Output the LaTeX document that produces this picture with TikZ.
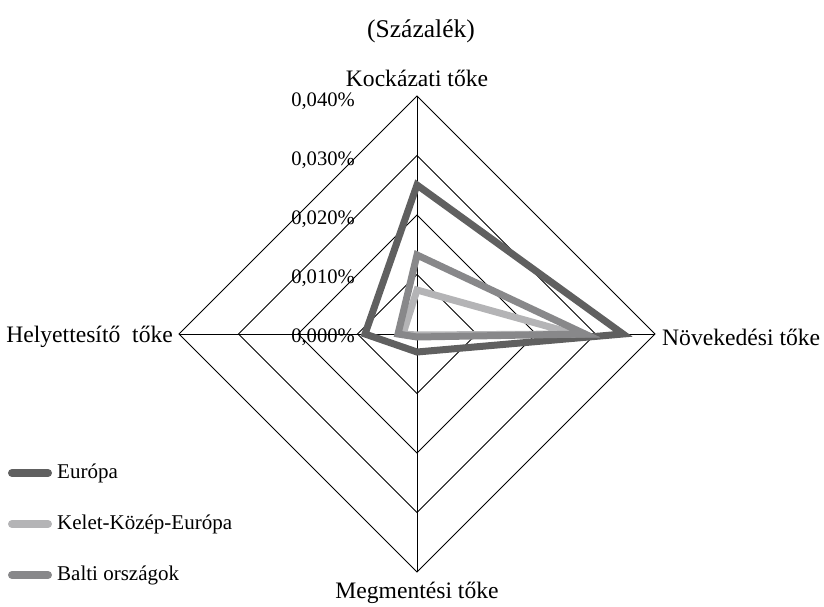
\documentclass[tikz,border=0pt]{standalone}
\usepackage{fontspec}
\usetikzlibrary{calc}
\setmainfont{Liberation Serif}
\begin{document}
\begin{tikzpicture}[x=1pt,y=-1pt,
  gridline/.style={draw=black,line width=0.8pt},
  ticklab/.style={anchor=east,inner sep=0pt,font=\fontsize{20.6}{24}\selectfont},
  axlab/.style={inner sep=0pt,font=\fontsize{23.6}{28}\selectfont},
  series/.style={line width=7pt,line join=miter},
  legline/.style={line width=8pt,line cap=round},
  legtext/.style={anchor=west,inner sep=0pt,font=\fontsize{21}{25}\selectfont}]
\useasboundingbox (0,0) rectangle (824,607);
\definecolor{cEur}{HTML}{606060}
\definecolor{cKKE}{HTML}{B4B4B6}
\definecolor{cBal}{HTML}{88888A}
\coordinate (O) at (417,334);
% grid
\foreach \r/\n in {59.5/1,119/2,178.5/3,238/4}{
  \coordinate (T\n) at ($(O)+(0,-\r)$);
  \coordinate (R\n) at ($(O)+(\r,0)$);
  \coordinate (B\n) at ($(O)+(0,\r)$);
  \coordinate (L\n) at ($(O)+(-\r,0)$);
  \draw[gridline] (T\n) -- (R\n) -- (B\n) -- (L\n) -- cycle;
}
\draw[gridline] (T4) -- (B4);
\draw[gridline] (L4) -- (R4);
% tick labels
\node[ticklab] (t0) at (355,337) {0,000\%};
\node[ticklab] (t1) at (355,278) {0,010\%};
\node[ticklab] (t2) at (355,219) {0,020\%};
\node[ticklab] (t3) at (355,160) {0,030\%};
\node[ticklab] (t4) at (355,101) {0,040\%};
% series
\draw[series,cEur] ($(O)+(0,-149)$) -- ($(O)+(206,0)$) -- ($(O)+(0,18)$) -- ($(O)+(-52,0)$) -- cycle;
\draw[series,cKKE] ($(O)+(0,-44)$) -- ($(O)+(158,0)$) -- ($(O)+(0,1)$) -- ($(O)+(-14,0)$) -- cycle;
\draw[series,cBal] ($(O)+(0,-79)$) -- ($(O)+(168,0)$) -- ($(O)+(0,3)$) -- ($(O)+(-19,0)$) -- cycle;
% axis labels
\node[axlab,anchor=south] (ka) at (417,87) {Kockázati tőke};
\node[axlab,anchor=west] (na) at (662,337) {Növekedési tőke};
\node[axlab,anchor=east] (ha) at (173,337) {Helyettesítő\ \ tőke};
\node[axlab,anchor=north] (ma) at (417,582) {Megmentési tőke};
\node[inner sep=0pt,font=\fontsize{25.5}{30}\selectfont] (title) at (421,31) {(Százalék)};
% legend
\coordinate (e1) at (12,473); \coordinate (e2) at (48,473);
\draw[legline,cEur] (e1) -- (e2);
\node[legtext] (le) at (57,473) {Európa};
\coordinate (k1) at (12,524); \coordinate (k2) at (48,524);
\draw[legline,cKKE] (k1) -- (k2);
\node[legtext] (lk) at (57,524) {Kelet-Közép-Európa};
\coordinate (b1) at (12,575); \coordinate (b2) at (48,575);
\draw[legline,cBal] (b1) -- (b2);
\node[legtext] (lb) at (57,575) {Balti országok};
\end{tikzpicture}
\end{document}
